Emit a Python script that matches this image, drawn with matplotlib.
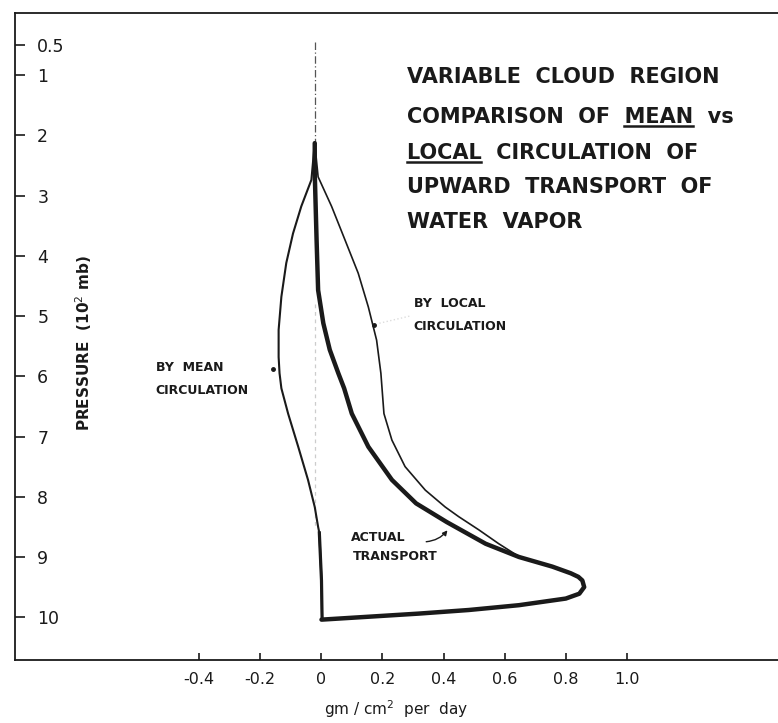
import matplotlib
matplotlib.use('Agg')
import matplotlib.pyplot as plt

# pressure in 10^2 mb, transport in gm/cm^2 per day
mean_p = [2.13, 2.74, 3.18, 3.63, 4.12, 4.68, 5.23, 5.68, 5.95, 6.2, 6.62,
          7.17, 7.72, 8.17, 8.5, 8.6, 9.39, 10.03]
mean_v = [-0.021, -0.032, -0.065, -0.092, -0.114, -0.13, -0.139, -0.139,
          -0.136, -0.13, -0.108, -0.075, -0.043, -0.021, -0.01, -0.006,
          0.001, 0.003]

local_p = [2.13, 2.69, 3.18, 3.74, 4.29, 4.85, 5.4, 5.95, 6.62, 7.06, 7.5,
           7.89, 8.17, 8.33, 8.55, 8.78, 8.99]
local_v = [-0.021, -0.01, 0.034, 0.078, 0.121, 0.154, 0.181, 0.195, 0.205,
           0.231, 0.274, 0.34, 0.405, 0.449, 0.515, 0.58, 0.645]

actual_p = [2.13, 2.63, 3.74, 4.57, 5.12, 5.56, 5.95, 6.2, 6.62, 7.17, 7.72,
            8.11, 8.42, 8.78, 9.0, 9.16, 9.27, 9.33, 9.39, 9.5, 9.61, 9.69,
            9.8, 9.88, 9.94, 9.99, 10.04]
actual_v = [-0.021, -0.021, -0.015, -0.01, 0.007, 0.028, 0.056, 0.075, 0.1,
            0.154, 0.231, 0.31, 0.41, 0.537, 0.646, 0.755, 0.815, 0.84,
            0.853, 0.859, 0.843, 0.799, 0.646, 0.482, 0.318, 0.16, 0.001]

y_ticks = [0.5, 1, 2, 3, 4, 5, 6, 7, 8, 9, 10]
y_labels = ['0.5', '1', '2', '3', '4', '5', '6', '7', '8', '9', '10']
x_ticks = [-0.4, -0.2, 0, 0.2, 0.4, 0.6, 0.8, 1.0]
x_labels = ['-0.4', '-0.2', '0', '0.2', '0.4', '0.6', '0.8', '1.0']

title_lines = ['VARIABLE  CLOUD  REGION',
               'COMPARISON  OF  MEAN  vs',
               'LOCAL  CIRCULATION  OF',
               'UPWARD  TRANSPORT  OF',
               'WATER  VAPOR']

ink = '#1a1a1a'

fig = plt.figure(figsize=(7.78, 7.23), dpi=100)
ax = fig.add_axes([15 / 778, 1 - 660 / 723, 1 - 15 / 778, (660 - 13) / 723])
ax.set_xlim(-1.0, 1.492)
ax.set_ylim(10.71, -0.03)

for side in ['left', 'top', 'bottom']:
    ax.spines[side].set_color(ink)
    ax.spines[side].set_linewidth(1.3)
ax.spines['right'].set_visible(False)

ax.set_yticks(y_ticks)
ax.set_yticklabels(y_labels, ha='left', fontsize=12.5, color=ink)
ax.tick_params(axis='y', direction='in', length=7, width=1.2, pad=-16,
               color=ink)
ax.set_xticks(x_ticks)
ax.set_xticklabels(x_labels, fontsize=11.5, color=ink)
ax.tick_params(axis='x', direction='in', length=5, width=1.2, pad=9,
               color=ink)

ax.set_ylabel('PRESSURE  (10$^2$ mb)', fontsize=11, fontweight='bold',
              color=ink)
ax.yaxis.set_label_coords(0.103, 0.49)
ax.set_xlabel('gm / cm$^2$  per  day', fontsize=11, color=ink, labelpad=8)

# zero reference line
ax.plot([-0.02, -0.02], [0.45, 2.2], color='#555555', lw=0.9,
        ls=(0, (6, 2, 1, 2)))
ax.plot([-0.02, -0.02], [4.8, 8.5], color='#cccccc', lw=0.9,
        ls=(0, (3, 3)))

ax.plot(mean_v, mean_p, color=ink, lw=1.5, solid_joinstyle='round')
ax.plot(mean_v[-3:], mean_p[-3:], color=ink, lw=2.3)
ax.plot(local_v, local_p, color=ink, lw=1.2, solid_joinstyle='round')
ax.plot(actual_v, actual_p, color=ink, lw=3.2, solid_joinstyle='round',
        solid_capstyle='round')

# labels
small = dict(fontsize=9, fontweight='bold', color=ink, va='center',
             ha='left')
ax.text(0.302, 4.8, 'BY  LOCAL', **small)
ax.text(0.302, 5.17, 'CIRCULATION', **small)
ax.plot([0.173], [5.15], 'o', color=ink, ms=2.5)
ax.plot([0.19, 0.29], [5.12, 5.0], color='#dddddd', lw=1, ls=':')

ax.text(-0.541, 5.86, 'BY  MEAN', **small)
ax.text(-0.541, 6.23, 'CIRCULATION', **small)
ax.plot([-0.157], [5.88], 'o', color=ink, ms=2.5)

ax.text(0.098, 8.67, 'ACTUAL', **small)
ax.text(0.105, 9.0, 'TRANSPORT', **small)
ax.annotate('', xy=(0.418, 8.52), xytext=(0.334, 8.75),
            arrowprops=dict(arrowstyle='-|>', color=ink, lw=1.0,
                            mutation_scale=7,
                            connectionstyle='arc3,rad=0.25'))

# title block
title_y = [1.03, 1.69, 2.29, 2.86, 3.44]
title_x = 0.279
tprops = dict(fontsize=15, fontweight='bold', color=ink, va='center',
              ha='left')
for line, yy in zip(title_lines, title_y):
    ax.text(title_x, yy, line, **tprops)

fig.canvas.draw()
renderer = fig.canvas.get_renderer()


def underline(line_idx, word):
    line = title_lines[line_idx]
    start = line.index(word)
    pre = ax.text(title_x, title_y[line_idx], line[:start], **tprops)
    full = ax.text(title_x, title_y[line_idx], line[:start + len(word)],
                   **tprops)
    b0 = pre.get_window_extent(renderer) if start else None
    b1 = full.get_window_extent(renderer)
    x0 = b0.x1 if b0 is not None else b1.x0
    x1 = b1.x1
    y = b1.y0 + 1
    inv = ax.transData.inverted()
    (dx0, dy), (dx1, _) = inv.transform([(x0, y), (x1, y)])
    pre.remove()
    full.remove()
    ax.plot([dx0, dx1], [dy, dy], color=ink, lw=1.8)


underline(1, 'MEAN')
underline(2, 'LOCAL')

fig.savefig('out.png', dpi=100)
